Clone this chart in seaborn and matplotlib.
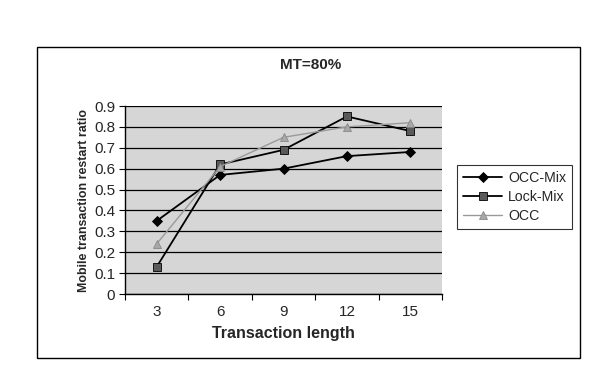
import matplotlib
matplotlib.use("Agg")
import matplotlib.pyplot as plt
from matplotlib.patches import Rectangle
from matplotlib.ticker import MultipleLocator
import seaborn as sns
import pandas as pd

# Data
lengths = [3, 6, 9, 12, 15]
occ_mix = [0.35, 0.57, 0.60, 0.66, 0.68]
lock_mix = [0.13, 0.62, 0.69, 0.85, 0.78]
occ = [0.24, 0.61, 0.75, 0.80, 0.82]
series_names = ["OCC-Mix", "Lock-Mix", "OCC"]

sns.set_theme(style="white")
plt.rcParams["font.family"] = ["Liberation Sans", "DejaVu Sans"]

df = pd.DataFrame({
    "length": lengths * 3,
    "ratio": occ_mix + lock_mix + occ,
    "scheme": [s for s in series_names for _ in lengths],
})

W, H = 595, 366
fig = plt.figure(figsize=(W / 100, H / 100), dpi=100)
ax = fig.add_axes([125 / W, 1 - 294 / H, (442 - 125) / W, (294 - 106) / H])
ax.set_facecolor("#d6d6d6")

styles = {
    "OCC-Mix": dict(color="black", marker="D", mfc="black", ms=5.5, lw=1.3),
    "Lock-Mix": dict(color="black", marker="s", mfc="#5a5a5a", ms=5.5, lw=1.3),
    "OCC": dict(color="#9a9a9a", marker="^", mfc="#a8a8a8", ms=5.5, lw=1.0),
}
for name in series_names:
    st = styles[name]
    sub = df[df["scheme"] == name]
    sns.lineplot(data=sub, x="length", y="ratio", ax=ax, label=name,
                 color=st["color"], lw=st["lw"], marker=st["marker"],
                 markersize=st["ms"], markerfacecolor=st["mfc"],
                 markeredgecolor="black" if name != "OCC" else "#888888",
                 markeredgewidth=0.6, zorder=3)

ax.set_xlim(1.5, 16.5)
ax.set_ylim(0, 0.9)
ax.yaxis.set_major_locator(MultipleLocator(0.1))
ax.set_xticks(lengths)
ax.set_xticks([1.5, 4.5, 7.5, 10.5, 13.5, 16.5], minor=True)
ax.set_yticks([round(0.1 * i, 1) for i in range(10)])
ax.set_yticklabels(["0"] + [f"{0.1 * i:.1f}" for i in range(1, 10)])
ax.tick_params(axis="x", which="major", length=0, pad=8, labelsize=11)
ax.tick_params(axis="x", which="minor", length=4, width=0.8, direction="out",
               color="black", bottom=True)
ax.tick_params(axis="y", length=4, width=0.8, direction="out", color="black",
               left=True, labelsize=11, pad=3)
ax.grid(axis="y", color="black", lw=0.9)
ax.set_axisbelow(True)
for side in ["top", "right"]:
    ax.spines[side].set_visible(False)
for side in ["left", "bottom"]:
    ax.spines[side].set_color("black")
    ax.spines[side].set_linewidth(1.0)

ax.set_xlabel("Transaction length", fontsize=11.5, fontweight="bold", labelpad=5)
ax.set_ylabel("Mobile transaction restart ratio", fontsize=8.9, fontweight="bold",
              labelpad=3)
fig.text(311 / W, 1 - 65 / H, "MT=80%", ha="center", va="center",
         fontsize=11, fontweight="bold")

handles, labels = ax.get_legend_handles_labels()
ax.get_legend().remove()
leg = fig.legend(handles, labels, loc="center left",
                 bbox_to_anchor=(457 / W, 1 - 197 / H), frameon=True,
                 fancybox=False, edgecolor="black", fontsize=10.2,
                 handlelength=2.8, borderpad=0.4, labelspacing=0.35,
                 handletextpad=0.4, borderaxespad=0)
leg.get_frame().set_linewidth(0.8)

# outer chart frame
fig.patches.append(Rectangle((37 / W, 1 - 358 / H), (580 - 37) / W, (358 - 47) / H,
                             transform=fig.transFigure, fill=False,
                             edgecolor="black", lw=1.0))

fig.savefig("out.png", dpi=100)
